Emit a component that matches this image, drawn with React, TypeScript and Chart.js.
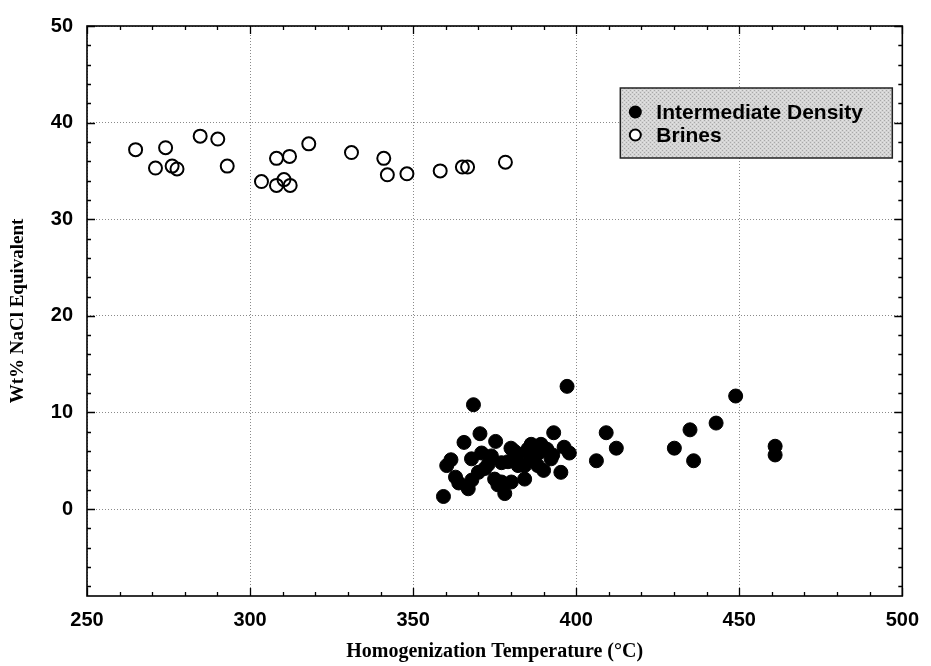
import React, { useEffect, useRef } from 'react';
import { Chart, registerables } from 'chart.js';

Chart.register(...registerables);

// ---- Data ----
const seriesLabels = ['Intermediate Density', 'Brines'];

const interTemp = [
  359.3, 360.3, 361.6, 363.0, 364.0, 365.6, 366.9, 367.9, 368.0, 368.5,
  370.0, 370.5, 371.0, 372.0, 373.0, 374.0, 375.0, 375.3, 376.0, 377.1,
  377.1, 378.1, 379.1, 380.1, 380.0, 381.0, 382.2, 382.2, 384.2, 384.2,
  385.2, 386.0, 386.2, 388.2, 388.5, 389.2, 390.0, 391.0, 392.3, 392.8,
  393.1, 395.3, 396.3, 397.2, 397.9, 406.2, 409.2, 412.3, 430.1, 434.9,
  436.0, 442.9, 448.9, 461.0, 461.0,
];
const interSal = [
  1.3, 4.5, 5.1, 3.3, 2.7, 6.9, 2.1, 5.2, 3.0, 10.8,
  3.8, 7.8, 5.8, 4.2, 4.6, 5.5, 3.1, 7.0, 2.5, 4.8,
  2.8, 1.6, 4.9, 2.8, 6.3, 6.0, 5.7, 4.5, 3.1, 4.5,
  6.2, 5.2, 6.7, 4.5, 5.8, 6.7, 4.0, 6.2, 5.2, 5.6,
  7.9, 3.8, 6.4, 12.7, 5.8, 5.0, 7.9, 6.3, 6.3, 8.2,
  5.0, 8.9, 11.7, 6.5, 5.6,
];

const brineTemp = [
  264.9, 271.0, 274.1, 276.1, 277.6, 284.7, 290.1, 293.0, 303.5, 308.1,
  308.1, 310.4, 312.3, 312.1, 318.0, 331.1, 341.0, 342.1, 348.1, 358.3,
  365.1, 366.7, 378.3,
];
const brineSal = [
  37.2, 35.3, 37.4, 35.5, 35.2, 38.6, 38.3, 35.5, 33.9, 33.5,
  36.3, 34.1, 33.5, 36.5, 37.8, 36.9, 36.3, 34.6, 34.7, 35.0,
  35.4, 35.4, 35.9,
];

const xTickValues = [250, 300, 350, 400, 450, 500];
const yTickValues = [0, 10, 20, 30, 40, 50];
const xMin = 250;
const xMax = 500;
const yMin = -9;
const yMax = 50;
const xMinorStep = 10;
const yMinorStep = 2;

const xTitle = 'Homogenization Temperature (°C)';
const yTitle = 'Wt% NaCl Equivalent';

const sansFont = '"Liberation Sans", Arial, Helvetica, sans-serif';
const serifFont = '"Liberation Serif", "Times New Roman", serif';

const framePlugin = {
  id: 'frameTicks',
  beforeDatasetsDraw(chart: any) {
    const { ctx, chartArea } = chart;
    const xs = chart.scales.x;
    const ys = chart.scales.y;
    const { left, right, top, bottom } = chartArea;
    ctx.save();
    ctx.strokeStyle = '#000';
    ctx.lineWidth = 1.3;
    ctx.beginPath();
    for (let v = xMin; v <= xMax + 1e-9; v += xMinorStep) {
      const p = Math.round(xs.getPixelForValue(v)) + 0.5;
      const len = v % 50 === 0 ? 8 : 4;
      ctx.moveTo(p, bottom);
      ctx.lineTo(p, bottom - len);
      ctx.moveTo(p, top);
      ctx.lineTo(p, top + len);
    }
    for (let v = -8; v <= yMax + 1e-9; v += yMinorStep) {
      const p = Math.round(ys.getPixelForValue(v)) + 0.5;
      const len = v % 10 === 0 ? 8 : 4;
      ctx.moveTo(left, p);
      ctx.lineTo(left + len, p);
      ctx.moveTo(right, p);
      ctx.lineTo(right - len, p);
    }
    ctx.stroke();
    ctx.lineWidth = 1.6;
    ctx.strokeRect(left, top, right - left, bottom - top);
    ctx.restore();
  },
};

function makeStipple(ctx: CanvasRenderingContext2D) {
  const c = document.createElement('canvas');
  c.width = 4;
  c.height = 4;
  const g = c.getContext('2d')!;
  g.fillStyle = '#d4d4d4';
  g.fillRect(0, 0, 4, 4);
  g.fillStyle = '#a8a8a8';
  g.fillRect(0, 0, 1, 1);
  g.fillRect(2, 2, 1, 1);
  g.fillStyle = '#e4e4e4';
  g.fillRect(2, 0, 1, 1);
  g.fillRect(0, 2, 1, 1);
  return ctx.createPattern(c, 'repeat');
}

const legendPlugin = {
  id: 'insetLegend',
  afterDraw(chart: any) {
    const { ctx, chartArea } = chart;
    const bw = 272;
    const bh = 70;
    const bx = chartArea.right - 10 - bw;
    const by = chartArea.top + 62;
    ctx.save();
    ctx.fillStyle = makeStipple(ctx) || '#cbcbcb';
    ctx.fillRect(bx, by, bw, bh);
    ctx.strokeStyle = '#222';
    ctx.lineWidth = 1.5;
    ctx.strokeRect(bx, by, bw, bh);
    ctx.font = `bold 21px ${sansFont}`;
    ctx.textBaseline = 'middle';
    ctx.textAlign = 'left';
    chart.data.datasets.forEach((ds: any, i: number) => {
      const cy = by + 24 + i * 23;
      const cx = bx + 15;
      ctx.beginPath();
      ctx.arc(cx, cy, i === 0 ? 6.5 : 5.5, 0, Math.PI * 2);
      if (i === 0) {
        ctx.fillStyle = '#000';
        ctx.fill();
      } else {
        ctx.fillStyle = '#fff';
        ctx.fill();
        ctx.lineWidth = 2;
        ctx.strokeStyle = '#000';
        ctx.stroke();
      }
      ctx.fillStyle = '#000';
      ctx.fillText(ds.label, bx + 36, cy + 1);
    });
    ctx.restore();
  },
};

export default function App() {
  const ref = useRef<HTMLCanvasElement | null>(null);

  useEffect(() => {
    if (!ref.current) return;
    const chart = new Chart(ref.current, {
      type: 'scatter',
      data: {
        datasets: [
          {
            label: seriesLabels[0],
            data: interTemp.map((t, i) => ({ x: t, y: interSal[i] })),
            pointRadius: 7,
            pointBackgroundColor: '#000',
            pointBorderColor: '#000',
            pointBorderWidth: 1,
            showLine: false,
          },
          {
            label: seriesLabels[1],
            data: brineTemp.map((t, i) => ({ x: t, y: brineSal[i] })),
            pointRadius: 6.5,
            pointBackgroundColor: 'rgba(0,0,0,0)',
            pointBorderColor: '#000',
            pointBorderWidth: 2,
            showLine: false,
          },
        ],
      },
      options: {
        animation: false,
        responsive: false,
        devicePixelRatio: 1,
        layout: { padding: { top: 21, right: 24, left: 0, bottom: 0 } },
        plugins: {
          legend: { display: false },
          tooltip: { enabled: false },
        },
        scales: {
          x: {
            type: 'linear',
            min: xMin,
            max: xMax,
            afterBuildTicks: (s: any) => {
              s.ticks = xTickValues.map((v) => ({ value: v }));
            },
            afterFit: (s: any) => {
              s.height = 70;
            },
            grid: { color: '#8a8a8a', lineWidth: 1, drawTicks: false },
            border: { display: false, dash: [1, 2] },
            ticks: {
              padding: 12,
              color: '#000',
              maxRotation: 0,
              font: { family: sansFont, size: 20, weight: 'bold' },
            },
            title: {
              display: true,
              text: xTitle,
              color: '#000',
              font: { family: serifFont, size: 20, weight: 'bold' },
              padding: { top: 0, bottom: 2 },
            },
          },
          y: {
            type: 'linear',
            min: yMin,
            max: yMax,
            afterBuildTicks: (s: any) => {
              s.ticks = yTickValues.map((v) => ({ value: v }));
            },
            afterFit: (s: any) => {
              s.width = 87;
            },
            grid: { color: '#8a8a8a', lineWidth: 1, drawTicks: false },
            border: { display: false, dash: [1, 2] },
            ticks: {
              padding: 14,
              color: '#000',
              font: { family: sansFont, size: 20, weight: 'bold' },
            },
            title: {
              display: true,
              text: yTitle,
              color: '#000',
              font: { family: serifFont, size: 19, weight: 'bold' },
              padding: { top: 7, bottom: 0 },
            },
          },
        },
      },
      plugins: [framePlugin, legendPlugin],
    } as any);
    return () => chart.destroy();
  }, []);

  return (
    <div style={{ position: 'absolute', left: 0, top: 0, width: 931, height: 666, background: '#fff' }}>
      <canvas ref={ref} width={931} height={666} />
    </div>
  );
}
